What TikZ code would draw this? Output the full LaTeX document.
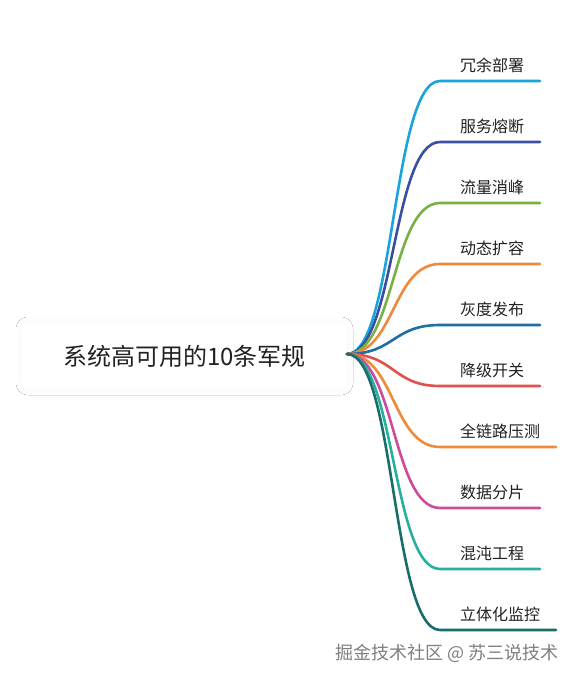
\documentclass[tikz,border=0pt]{standalone}
\usepackage{fontspec}
\setmainfont{Noto Sans CJK SC}
\usetikzlibrary{shadows.blur}
\definecolor{c1}{HTML}{1BA3DB}
\definecolor{c2}{HTML}{3A4FA0}
\definecolor{c3}{HTML}{77B043}
\definecolor{c4}{HTML}{EF8A3C}
\definecolor{c5}{HTML}{1F6FA6}
\definecolor{c6}{HTML}{E4504E}
\definecolor{c7}{HTML}{EE8A3A}
\definecolor{c8}{HTML}{CF4A9A}
\definecolor{c9}{HTML}{26B0A0}
\definecolor{c10}{HTML}{1A6E6A}
\definecolor{txt}{HTML}{222222}
\begin{document}
\begin{tikzpicture}[x=1pt,y=-1pt,
  branch/.style={line width=2.6pt, line cap=round},
  leaf/.style={anchor=south west, inner sep=0pt, font=\fontsize{16}{17}\selectfont, text=txt},
  rootbox/.style={fill=white, rounded corners=6pt, minimum width=325pt, minimum height=66pt,
    blur shadow={shadow blur steps=10, shadow xshift=0pt, shadow yshift=0pt, shadow opacity=4, shadow blur radius=6pt},
    font=\fontsize{24}{26}\selectfont, text=txt}]
\useasboundingbox (0,0) rectangle (578,682);
\fill[white] (0,0) rectangle (578,682);
\node[rootbox] (root) at (184.5,356) {系统高可用的10条军规};
\coordinate (o) at (347,354);
\foreach \i/\y/\xe/\lab in {1/81/540/冗余部署, 2/142/540/服务熔断, 3/203/540/流量消峰, 4/264/540/动态扩容, 5/325/540/灰度发布, 6/386/540/降级开关, 7/447/556/全链路压测, 8/508/540/数据分片, 9/569/540/混沌工程, 10/630/556/立体化监控}{
  \coordinate (s\i) at (440,\y);
  \coordinate (e\i) at (\xe,\y);
  \draw[branch, c\i] (o) .. controls +(48,0) and +(-48,0) .. (s\i) -- (e\i);
  \node[leaf] (l\i) at (460,\y-8) {\lab};
}
\node[font=\fontsize{18}{19}\selectfont, text=black!50, inner sep=0pt] (wm) at (447,653) {掘金技术社区 @ 苏三说技术};
\end{tikzpicture}
\end{document}
